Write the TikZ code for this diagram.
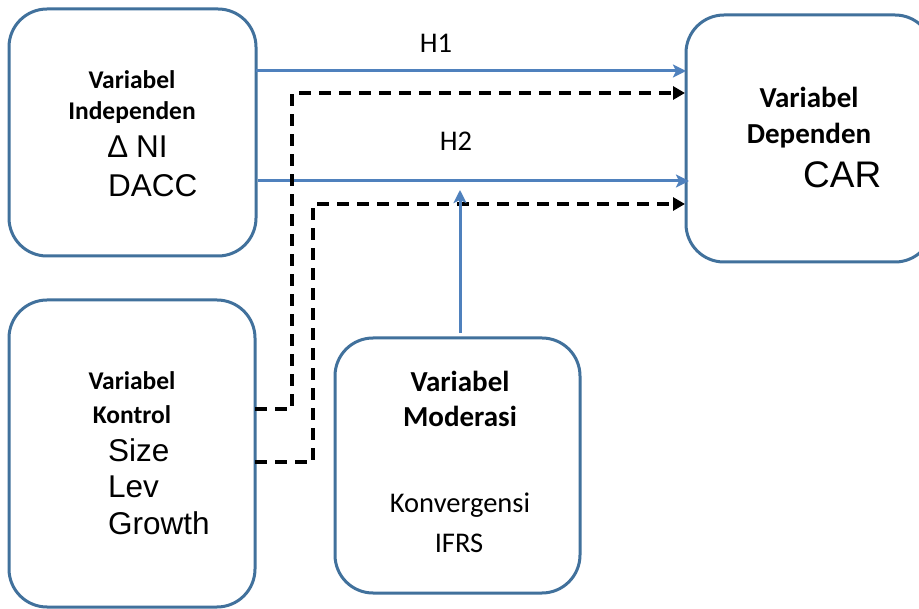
\documentclass[tikz,border=0pt]{standalone}
\usepackage{fontspec}
\setmainfont{Carlito}
\newfontfamily\arial{Liberation Sans}
\usetikzlibrary{arrows.meta}
\definecolor{boxblue}{RGB}{65,113,156}
\definecolor{lineblue}{RGB}{79,129,189}
\tikzset{
  varbox/.style={draw=boxblue, line width=3pt, rounded corners=38pt, fill=white},
  bluearrow/.style={draw=lineblue, line width=3pt, -{Stealth[length=13pt,width=13pt,inset=3pt]}},
  dasharrow/.style={draw=black, line width=3.5pt, dash pattern=on 12pt off 8pt, -{Triangle[length=12pt,width=13pt]}},
  boldtxt/.style={anchor=base, inner sep=0pt, font=\bfseries\fontsize{25.5}{30}\selectfont},
  boldbig/.style={anchor=base, inner sep=0pt, font=\bfseries\fontsize{29}{34}\selectfont},
  regtxt/.style={anchor=base, inner sep=0pt, font=\fontsize{28.5}{34}\selectfont},
  arialtxt/.style={anchor=base west, inner sep=0pt, font=\arial\fontsize{31.5}{34}\selectfont},
  arialbig/.style={anchor=base west, inner sep=0pt, font=\arial\fontsize{37}{40}\selectfont}
}
\begin{document}
\begin{tikzpicture}[x=1pt,y=-1pt]
\useasboundingbox (0,0) rectangle (919,609);
\clip (0,0) rectangle (919,609);
\fill[white] (0,0) rectangle (919,609);
% boxes
\draw[varbox] (9,9) rectangle (256,256);
\draw[varbox] (686,15) rectangle (933,262);
\draw[varbox] (9,300) rectangle (255,607);
\draw[varbox] (335,338) rectangle (580,593);
% connector end points on box edges
\coordinate (h1s) at (256,71);
\coordinate (h1e) at (686,71);
\coordinate (h2s) at (258,181);
\coordinate (h2e) at (689,181);
\coordinate (d1s) at (255,409);
\coordinate (d1a) at (292,409);
\coordinate (d1b) at (292,93);
\coordinate (d1e) at (685,93);
\coordinate (d2s) at (255,462);
\coordinate (d2a) at (313,462);
\coordinate (d2b) at (313,204);
\coordinate (d2e) at (685,204);
\coordinate (modN) at (460,333);
\coordinate (h2hit) at (460,190);
% texts
\node[boldtxt] (t1a) at (132,89) {Variabel};
\node[boldtxt] (t1b) at (132,120) {Independen};
\node[arialtxt] (t1c) at (108,158) {∆ NI};
\node[arialtxt] (t1d) at (108,197) {DACC};
\node[boldbig] (t2a) at (809,108) {Variabel};
\node[boldbig] (t2b) at (809,144) {Dependen};
\node[arialbig] (t2c) at (803,188) {CAR};
\node[boldtxt] (t3a) at (132,390) {Variabel};
\node[boldtxt] (t3b) at (132,424) {Kontrol};
\node[arialtxt] (t3c) at (108,462) {Size};
\node[arialtxt] (t3d) at (108,498) {Lev};
\node[arialtxt] (t3e) at (108,535) {Growth};
\node[boldbig] (t4a) at (460,392) {Variabel};
\node[boldbig] (t4b) at (460,427) {Moderasi};
\node[regtxt] (t4c) at (460,513) {Konvergensi};
\node[regtxt] (t4d) at (459,553) {IFRS};
\node[regtxt] (lh1) at (436,53) {H1};
\node[regtxt] (lh2) at (456,151) {H2};
% connectors
\draw[bluearrow] (h1s) -- (h1e);
\draw[bluearrow] (h2s) -- (h2e);
\draw[dasharrow] (d1s) -- (d1a) -- (d1b) -- (d1e);
\draw[dasharrow] (d2s) -- (d2a) -- (d2b) -- (d2e);
\draw[bluearrow] (modN) -- (h2hit);
\end{tikzpicture}
\end{document}
